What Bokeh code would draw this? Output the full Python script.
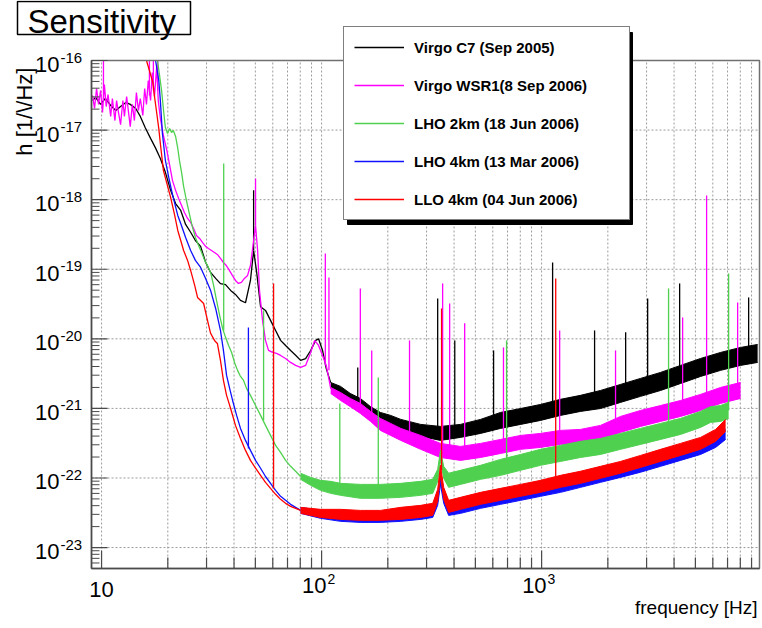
import numpy as np
from bokeh.plotting import figure
from bokeh.models import Label, Legend, LegendItem, BoxAnnotation, Range1d
from bokeh.embed import file_html
from bokeh.resources import INLINE

# ---------------- data ----------------
# Virgo C7 (Sep 2005) - black
c7_lf_freq = [9.1, 9.39, 9.9, 10.4, 11.0, 11.6, 12.2, 12.9, 13.5, 14.3, 15.0, 15.8, 16.7, 17.6, 18.5, 19.5,
              20.6, 21.7, 22.9, 24.1, 25.4, 26.7, 28.2, 29.7, 31.3, 33.0, 34.7, 36.6, 38.6, 40.6, 42.8, 45.1,
              47.5, 49.1, 50.7, 52.8, 55.6, 58.6, 61.8, 65.1, 68.6, 72.3, 76.2, 80.3, 84.6, 89.2, 94.0, 96.9,
              101, 105, 110]
c7_lf_h = [2.66e-17, 2.95e-17, 2.34e-17, 2.85e-17, 2.26e-17, 1.91e-17, 2.18e-17, 2.50e-17, 2.34e-17, 2.04e-17,
           1.57e-17, 1.08e-17, 7.6e-18, 5.5e-18, 3.9e-18, 2.47e-18, 1.36e-18, 8.8e-19, 7.0e-19, 4.4e-19, 3.4e-19,
           2.59e-19, 2.13e-19, 1.26e-19, 9.0e-20, 7.4e-20, 6.2e-20, 6.0e-20, 4.96e-20, 4.35e-20, 3.56e-20, 3.3e-20,
           6.9e-20, 1.86e-19, 9.0e-20, 2.9e-20, 2.56e-20, 1.84e-20, 1.32e-20, 9.5e-21, 8.0e-21, 6.8e-21, 5.8e-21,
           4.9e-21, 5.2e-21, 6.8e-21, 9.5e-21, 1.0e-20, 6.8e-21, 3.75e-21, 2.35e-21]
c7_band_freq = [110, 122, 135, 150, 167, 185, 206, 229, 282, 347, 428, 528, 651, 803, 989, 1219, 1503, 1853,
                2285, 2818, 3474, 4283, 5280, 6509, 8024, 9590]
c7_band_hi = [2.36e-21, 2.07e-21, 1.64e-21, 1.39e-21, 1.06e-21, 8.75e-22, 7.93e-22, 6.95e-22, 5.89e-22, 5.51e-22,
              5.89e-22, 6.95e-22, 8.75e-22, 9.96e-22, 1.14e-21, 1.35e-21, 1.54e-21, 1.81e-21, 2.21e-21, 2.70e-21,
              3.29e-21, 4.15e-21, 5.22e-21, 6.37e-21, 7.52e-21, 8.30e-21]
c7_band_lo = [1.94e-21, 1.59e-21, 1.26e-21, 9.96e-22, 7.67e-22, 6.29e-22, 5.33e-22, 4.67e-22, 3.96e-22, 3.47e-22,
              3.83e-22, 4.37e-22, 5.16e-22, 5.89e-22, 6.72e-22, 7.93e-22, 9.05e-22, 9.96e-22, 1.22e-21, 1.49e-21,
              1.81e-21, 2.28e-21, 2.88e-21, 3.52e-21, 4.15e-21, 4.58e-21]
c7_spike_freq = [49.1, 146, 337, 403, 605, 1122, 1741, 2410, 3034, 4240, 8730]
c7_spike_base = [1.86e-19, 1.30e-21, 4.37e-22, 4.52e-22, 6.29e-22, 9.35e-22, 1.30e-21, 1.69e-21, 2.14e-21,
                 3.08e-21, 5.96e-21]
c7_spike_peak = [1.36e-18, 3.88e-21, 3.80e-20, 9.48e-21, 6.81e-21, 1.25e-19, 1.32e-20, 1.24e-20, 3.80e-20,
                 6.25e-20, 3.93e-20]

# Virgo WSR1 (8 Sep 2006) - magenta
wsr1_lf_freq = [9.10, 9.29, 9.49, 9.69, 9.90, 10.1, 10.3, 10.5, 10.7, 11.0, 11.2, 11.5, 11.7, 11.9, 12.2, 12.5,
                12.7, 13.0, 13.3, 13.5, 13.8, 14.1, 14.4, 14.7, 15.0, 15.4, 15.7, 16.0, 16.3, 16.7, 17.0, 17.4,
                17.8, 18.1, 18.5, 19.1, 19.8, 20.4, 21.0, 21.7, 22.4, 23.1, 23.8, 24.6, 25.4, 26.2, 27.0, 27.9,
                28.8, 29.7, 30.6, 31.6, 32.6, 33.6, 34.7, 35.8, 36.9, 38.1, 39.3, 40.6, 41.9, 43.2, 44.6, 46.1,
                47.5, 49.1, 50.1, 51.2, 52.2, 53.9, 55.6, 57.4, 59.9, 62.4, 65.1, 68.6, 72.3, 76.2, 80.3, 84.6,
                89.2, 93.0, 96.9, 101, 105, 110]
wsr1_lf_h = [3.14e-17, 2.05e-17, 3.96e-17, 2.34e-17, 3.71e-17, 1.79e-17, 4.52e-17, 2.18e-17, 3.25e-17, 1.57e-17,
             2.84e-17, 1.37e-17, 2.66e-17, 1.91e-17, 1.20e-17, 2.66e-17, 1.57e-17, 3.04e-17, 1.67e-17, 1.12e-17,
             2.34e-17, 1.37e-17, 3.47e-17, 1.91e-17, 2.84e-17, 1.62e-17, 3.96e-17, 2.34e-17, 5.16e-17, 2.66e-17,
             6.72e-17, 3.04e-17, 8.20e-17, 2.66e-17, 1.47e-17, 8.36e-18, 5.09e-18, 3.10e-18, 1.89e-18, 1.36e-18,
             1.04e-18, 8.26e-19, 6.55e-19, 5.37e-19, 4.71e-19, 3.86e-19, 3.06e-19, 2.77e-19, 2.42e-19, 2.13e-19,
             1.99e-19, 1.86e-19, 1.74e-19, 1.63e-19, 1.43e-19, 1.25e-19, 1.13e-19, 9.61e-20, 8.15e-20, 6.90e-20,
             6.25e-20, 6.46e-20, 7.38e-20, 8.15e-20, 1.13e-19, 2.59e-19, 4.26e-19, 1.86e-19, 4.96e-20, 1.84e-20,
             9.48e-21, 6.81e-21, 6.37e-21, 6.17e-21, 5.77e-21, 5.22e-21, 4.58e-21, 4.15e-21, 3.88e-21, 4.15e-21,
             6.37e-21, 9.48e-21, 8.04e-21, 5.77e-21, 4.15e-21, 1.94e-21]
wsr1_band_freq = [110, 122, 135, 150, 167, 185, 206, 229, 282, 347, 428, 528, 651, 803, 989, 1219, 1503, 1853,
                  2285, 2818, 3474, 4283, 5280, 6509, 8024]
wsr1_band_hi = [2.00e-21, 1.69e-21, 1.39e-21, 1.18e-21, 9.05e-22, 7.18e-22, 6.08e-22, 5.16e-22, 4.09e-22,
                3.14e-22, 2.84e-22, 3.14e-22, 3.58e-22, 4.09e-22, 4.37e-22, 4.83e-22, 4.99e-22, 5.70e-22,
                7.67e-22, 9.35e-22, 1.10e-21, 1.30e-21, 1.59e-21, 2.00e-21, 2.36e-21]
wsr1_band_lo = [1.64e-21, 1.30e-21, 1.06e-21, 8.47e-22, 6.50e-22, 4.83e-22, 4.09e-22, 3.47e-22, 2.58e-22,
                1.97e-22, 1.79e-22, 1.97e-22, 2.25e-22, 2.58e-22, 2.75e-22, 3.04e-22, 3.14e-22, 3.58e-22,
                4.52e-22, 5.51e-22, 6.50e-22, 7.67e-22, 9.35e-22, 1.18e-21, 1.39e-21]
wsr1_spike_freq = [10.2, 16.5, 17.2, 18.0, 50.1, 104, 108, 150, 169, 251, 355, 382, 447, 671, 1208, 2168, 4375,
                   5623, 7780]
wsr1_spike_base = [2.66e-17, 3.14e-17, 3.71e-17, 3.71e-17, 4.26e-19, 4.15e-21, 3.52e-21, 9.96e-22, 7.67e-22,
                   3.96e-22, 2.49e-22, 2.33e-22, 2.25e-22, 2.84e-22, 3.70e-22, 5.16e-22, 9.96e-22, 1.30e-21,
                   1.81e-21]
wsr1_spike_peak = [1.0e-16, 1.0e-16, 1.0e-16, 1.0e-16, 2.02e-18, 1.68e-19, 7.63e-20, 5.30e-20, 6.81e-21,
                   9.48e-21, 6.25e-20, 3.22e-20, 1.67e-20, 7.52e-21, 1.32e-20, 6.81e-21, 2.03e-20, 1.15e-18,
                   3.33e-20]

# LHO 2km (18 Jun 2006) - green
lho2_lf_freq = [17.97, 18.35, 18.74, 19.13, 19.5, 19.95, 20.4, 20.8, 21.2, 21.7, 22.2, 22.6, 23.1, 23.6, 24.3,
                25.1, 25.9, 26.7, 27.6, 28.5, 29.4, 30.3, 31.3, 32.3, 33.3, 34.4, 35.5, 36.6, 37.8, 39.0, 40.2,
                41.5, 42.8, 44.2, 45.6, 47.5, 50.1, 52.8, 55.6, 58.6, 61.8, 65.1, 68.6, 72.3, 76.2, 80.3]
lho2_lf_h = [1.0e-16, 6.08e-17, 3.71e-17, 1.91e-17, 1.09e-17, 8.94e-18, 1.05e-17, 9.24e-18, 9.87e-18, 8.09e-18,
             5.44e-18, 3.66e-18, 2.46e-18, 1.55e-18, 9.75e-19, 6.13e-19, 3.99e-19, 2.86e-19, 2.20e-19, 1.74e-19,
             1.34e-19, 1.13e-19, 9.0e-20, 5.85e-20, 3.56e-20, 2.17e-20, 1.41e-20, 1.05e-20, 8.04e-21, 6.37e-21,
             4.58e-21, 3.52e-21, 2.88e-21, 2.52e-21, 1.94e-21, 1.54e-21, 1.10e-21, 7.93e-22, 5.70e-22, 4.09e-22,
             2.94e-22, 2.33e-22, 1.79e-22, 1.47e-22, 1.25e-22, 1.05e-22]
lho2_band_freq = [80.3, 89.2, 98.9, 110, 122, 150, 185, 229, 282, 320, 337, 347, 359, 378, 428, 528, 651, 803,
                  989, 1219, 1503, 1853, 2285, 2818, 3474, 4283, 5280, 5862, 6509, 7080]
lho2_band_hi = [1.17e-22, 1.02e-22, 9.24e-23, 8.94e-23, 8.37e-23, 8.09e-23, 8.09e-23, 8.37e-23, 8.94e-23,
                9.55e-23, 1.33e-22, 2.49e-22, 1.47e-22, 1.17e-22, 1.29e-22, 1.52e-22, 1.85e-22, 2.18e-22,
                2.58e-22, 2.94e-22, 3.36e-22, 3.70e-22, 4.37e-22, 5.16e-22, 6.08e-22, 7.18e-22, 9.05e-22,
                1.06e-21, 1.10e-21, 1.22e-21]
lho2_band_lo = [9.55e-23, 7.83e-23, 6.64e-23, 6.01e-23, 5.63e-23, 5.10e-23, 5.10e-23, 5.27e-23, 5.63e-23,
                6.01e-23, 8.94e-23, 1.79e-22, 9.87e-23, 7.33e-23, 8.09e-23, 9.55e-23, 1.09e-22, 1.29e-22,
                1.52e-22, 1.73e-22, 1.97e-22, 2.18e-22, 2.58e-22, 3.04e-22, 3.58e-22, 4.23e-22, 5.33e-22,
                6.29e-22, 6.50e-22, 7.18e-22]
lho2_spike_freq = [35.9, 54.5, 121, 181, 693, 3776, 7080]
lho2_spike_base = [1.32e-20, 6.72e-22, 7.09e-23, 6.42e-23, 1.42e-22, 4.83e-22, 9.35e-22]
lho2_spike_peak = [3.31e-18, 2.56e-20, 1.18e-21, 2.79e-21, 9.48e-21, 5.30e-20, 8.70e-20]

# LHO 4km (13 Mar 2006) - blue
lho4_lf_freq = [17.6, 18.2, 18.5, 18.9, 19.5, 20.2, 20.8, 21.5, 22.2, 22.9, 24.1, 25.4, 26.7, 28.2, 29.7, 31.3,
                33.0, 34.7, 35.8, 37.0, 38.2, 39.4, 41.1, 42.8, 45.1, 47.5, 50.1, 52.8, 55.6, 58.6, 61.8, 65.1,
                68.6, 72.3, 76.2, 80.3]
lho4_lf_h = [1.0e-16, 5.16e-17, 2.66e-17, 8.94e-18, 3.66e-18, 2.09e-18, 1.36e-18, 8.83e-19, 5.93e-19, 4.55e-19,
             2.86e-19, 1.86e-19, 1.34e-19, 1.06e-19, 7.38e-20, 4.96e-20, 2.73e-20, 1.32e-20, 6.81e-21, 2.98e-21,
             1.94e-21, 1.30e-21, 7.93e-22, 5.16e-22, 3.47e-22, 2.49e-22, 1.79e-22, 1.38e-22, 1.05e-22, 8.37e-23,
             6.64e-23, 5.45e-23, 4.77e-23, 4.18e-23, 3.78e-23, 3.42e-23]
lho4_band_freq = [80.3, 98.9, 122, 150, 185, 229, 282, 320, 337, 347, 359, 378, 428, 528, 651, 803, 989, 1219,
                  1503, 1853, 2285, 2818, 3474, 4283, 5280, 6180, 6860]
lho4_band_hi = [3.78e-23, 3.42e-23, 3.31e-23, 3.20e-23, 3.20e-23, 3.31e-23, 3.54e-23, 3.78e-23, 5.63e-23,
                1.05e-22, 6.01e-23, 4.04e-23, 4.32e-23, 5.10e-23, 5.82e-23, 6.64e-23, 7.57e-23, 8.65e-23,
                1.02e-22, 1.21e-22, 1.42e-22, 1.68e-22, 2.04e-22, 2.49e-22, 3.04e-22, 3.83e-22, 4.99e-22]
lho4_band_lo = [3.10e-23, 2.63e-23, 2.38e-23, 2.30e-23, 2.30e-23, 2.38e-23, 2.54e-23, 2.71e-23, 4.04e-23,
                8.09e-23, 4.32e-23, 2.90e-23, 3.10e-23, 3.66e-23, 4.18e-23, 4.77e-23, 5.45e-23, 6.21e-23,
                7.33e-23, 8.65e-23, 1.02e-22, 1.21e-22, 1.47e-22, 1.79e-22, 2.18e-22, 2.75e-22, 3.58e-22]
lho4_spike_freq = [46.5]
lho4_spike_base = [2.66e-22]
lho4_spike_peak = [1.46e-20]

# LLO 4km (04 Jun 2006) - red
llo4_lf_freq = [16.0, 16.5, 17.1, 17.4, 17.8, 18.2, 18.5, 19.1, 19.8, 20.6, 21.5, 22.2, 22.9, 23.6, 24.6, 25.4,
                26.5, 27.3, 28.2, 29.1, 30.3, 31.3, 32.6, 33.6, 34.7, 35.8, 37.0, 38.6, 40.6, 42.8, 45.1, 47.5,
                50.1, 52.8, 55.6, 58.6, 61.8, 65.1, 68.6, 72.3, 76.2, 80.3]
llo4_lf_h = [1.0e-16, 7.18e-17, 4.83e-17, 3.04e-17, 1.79e-17, 1.05e-17, 6.42e-18, 2.63e-18, 1.71e-18, 1.08e-18,
             5.93e-19, 3.61e-19, 2.59e-19, 1.86e-19, 1.34e-19, 9.61e-20, 5.85e-20, 3.93e-20, 3.56e-20, 3.22e-20,
             1.84e-20, 1.20e-20, 9.48e-21, 8.58e-21, 4.89e-21, 2.52e-21, 1.54e-21, 9.96e-22, 5.70e-22, 3.70e-22,
             2.49e-22, 1.79e-22, 1.38e-22, 1.09e-22, 8.65e-23, 7.09e-23, 5.82e-23, 4.93e-23, 4.32e-23, 3.91e-23,
             3.66e-23, 3.42e-23]
llo4_band_freq = [80.3, 98.9, 122, 150, 185, 229, 282, 320, 337, 347, 359, 378, 428, 528, 651, 803, 989, 1219,
                  1503, 1853, 2285, 2818, 3474, 4283, 5280, 6180, 6860]
llo4_band_hi = [3.78e-23, 3.54e-23, 3.54e-23, 3.42e-23, 3.42e-23, 3.78e-23, 4.04e-23, 4.32e-23, 6.86e-23,
                1.52e-22, 7.33e-23, 4.77e-23, 5.27e-23, 6.21e-23, 7.09e-23, 8.09e-23, 9.24e-23, 1.09e-22,
                1.25e-22, 1.47e-22, 1.73e-22, 2.11e-22, 2.58e-22, 3.14e-22, 3.83e-22, 4.99e-22, 6.95e-22]
llo4_band_lo = [3.10e-23, 2.71e-23, 2.54e-23, 2.46e-23, 2.46e-23, 2.54e-23, 2.71e-23, 2.90e-23, 4.61e-23,
                1.09e-22, 4.93e-23, 3.20e-23, 3.54e-23, 4.18e-23, 4.77e-23, 5.45e-23, 6.21e-23, 7.33e-23,
                8.37e-23, 9.87e-23, 1.17e-22, 1.42e-22, 1.73e-22, 2.11e-22, 2.58e-22, 3.36e-22, 4.67e-22]
llo4_spike_freq = [60.5, 351, 1159]
llo4_spike_base = [7.09e-23, 1.29e-22, 8.09e-23]
llo4_spike_peak = [6.25e-20, 2.73e-20, 7.38e-20]

legend_labels = ["Virgo C7 (Sep 2005)", "Virgo WSR1(8 Sep 2006)", "LHO 2km (18 Jun 2006)",
                 "LHO 4km (13 Mar 2006)", "LLO 4km (04 Jun 2006)"]
x_tick_values = [10, 100, 1000]
x_tick_exponents = ["", "2", "3"]
y_tick_exponents = [-23, -22, -21, -20, -19, -18, -17, -16]

# ---------------- layout (pixel geometry of the ROOT-like frame) ----------------
W, H = 762, 628
FL, FR, FT, FB = 91, 759, 60, 568          # inner plotting box inside the canvas
X_MIN, X_MAX = 9.0, 9780.0                 # axis range of the inner box
Y_MIN, Y_MAX = 5.0e-24, 1.0e-16
FONT = "Liberation Sans"
LX0, LX1 = np.log10(X_MIN), np.log10(X_MAX)
LY0, LY1 = np.log10(Y_MIN), np.log10(Y_MAX)


def data_x(px):
    return float(10 ** (LX0 + (px - FL) / (FR - FL) * (LX1 - LX0)))


def data_y(py):
    return float(10 ** (LY1 - (py - FT) / (FB - FT) * (LY1 - LY0)))


def pix_x(v):
    return float(FL + (np.log10(v) - LX0) / (LX1 - LX0) * (FR - FL))


def pix_y(v):
    return float(FT + (LY1 - np.log10(v)) / (LY1 - LY0) * (FB - FT))


# the Bokeh frame covers the whole canvas so that texts outside the inner box are not clipped
p = figure(width=W, height=H, x_axis_type="log", y_axis_type="log",
           x_range=Range1d(data_x(0), data_x(W)), y_range=Range1d(data_y(H), data_y(0)),
           x_axis_location=None, y_axis_location=None, title_location=None,
           output_backend="svg", toolbar_location=None,
           min_border_left=0, min_border_right=0, min_border_top=0, min_border_bottom=0)
p.background_fill_color = "white"
p.border_fill_color = "white"
p.outline_line_color = None
p.grid.visible = False

x_major = [10.0, 100.0, 1000.0]
x_minor = [m * 10.0 ** e for e in range(1, 4) for m in range(2, 10)]
y_major = [10.0 ** e for e in y_tick_exponents]
y_minor = [m * 10.0 ** e for e in range(-24, -16) for m in range(2, 10) if m * 10.0 ** e > Y_MIN]

GRID = "#9c9c9c"
x_grid = x_major + x_minor
p.segment(x0=x_grid, y0=[Y_MIN] * len(x_grid), x1=x_grid, y1=[Y_MAX] * len(x_grid),
          line_color=GRID, line_dash="2 2", line_width=1)
p.segment(x0=[X_MIN] * len(y_major), y0=y_major, x1=[X_MAX] * len(y_major), y1=y_major,
          line_color=GRID, line_dash="2 2", line_width=1)

series = [
    ("black", c7_lf_freq, c7_lf_h, c7_band_freq, c7_band_lo, c7_band_hi, c7_spike_freq, c7_spike_base, c7_spike_peak),
    ("#ff00ff", wsr1_lf_freq, wsr1_lf_h, wsr1_band_freq, wsr1_band_lo, wsr1_band_hi, wsr1_spike_freq, wsr1_spike_base, wsr1_spike_peak),
    ("#4fd14f", lho2_lf_freq, lho2_lf_h, lho2_band_freq, lho2_band_lo, lho2_band_hi, lho2_spike_freq, lho2_spike_base, lho2_spike_peak),
    ("#1010ff", lho4_lf_freq, lho4_lf_h, lho4_band_freq, lho4_band_lo, lho4_band_hi, lho4_spike_freq, lho4_spike_base, lho4_spike_peak),
    ("#ff0000", llo4_lf_freq, llo4_lf_h, llo4_band_freq, llo4_band_lo, llo4_band_hi, llo4_spike_freq, llo4_spike_base, llo4_spike_peak),
]

line_renderers = []
for color, lf_f, lf_h, bf, blo, bhi, sf, sb, sp in series:
    p.varea(x=bf, y1=blo, y2=bhi, fill_color=color, fill_alpha=1.0)
    p.line(bf, blo, line_color=color, line_width=1)
    p.line(bf, bhi, line_color=color, line_width=1)
    r = p.line(lf_f, lf_h, line_color=color, line_width=1.3)
    p.segment(x0=sf, y0=sb, x1=sf, y1=sp, line_color=color, line_width=1.3)
    line_renderers.append(r)

# frame and ticks (ticks point inwards, as in ROOT)
AX = "#4a4a4a"
p.quad(left=[X_MIN], right=[X_MAX], bottom=[Y_MIN], top=[Y_MAX], fill_color=None,
       line_color="#707070", line_width=1.5)
p.segment(x0=x_major, y0=[Y_MIN] * 3, x1=x_major, y1=[data_y(FB - 18)] * 3, line_color=AX, line_width=1.2)
p.segment(x0=x_minor, y0=[Y_MIN] * len(x_minor), x1=x_minor, y1=[data_y(FB - 11)] * len(x_minor),
          line_color=AX, line_width=1.2)
p.segment(x0=[X_MIN] * len(y_major), y0=y_major, x1=[data_x(FL + 16)] * len(y_major), y1=y_major,
          line_color=AX, line_width=1.2)
p.segment(x0=[X_MIN] * len(y_minor), y0=y_minor, x1=[data_x(FL + 8)] * len(y_minor), y1=y_minor,
          line_color=AX, line_width=1.0)
p.segment(x0=[X_MIN, X_MIN], y0=[Y_MIN, Y_MIN], x1=[X_MIN, X_MAX], y1=[Y_MAX, Y_MIN], line_color=AX, line_width=1.5)

# title box (drawn as a glyph so its border is crisp)
p.quad(left=[data_x(17)], right=[data_x(190)], top=[data_y(1)], bottom=[data_y(34)],
       fill_color="white", line_color="black", line_width=1.5)

# ---------------- tick labels ----------------
for v, ex in zip(x_tick_values, x_tick_exponents):
    if ex == "":
        p.add_layout(Label(x=v, y=data_y(589), text="10", text_align="center", text_baseline="middle",
                           text_font=FONT, text_font_size="22px", text_color="black"))
    else:
        px = pix_x(v)
        p.add_layout(Label(x=data_x(px + 5), y=data_y(585), text="10", text_align="right",
                           text_baseline="middle", text_font=FONT, text_font_size="22px", text_color="black"))
        p.add_layout(Label(x=data_x(px + 6), y=data_y(578), text=ex, text_align="left",
                           text_baseline="middle", text_font=FONT, text_font_size="14px", text_color="black"))

for e in y_tick_exponents:
    py = pix_y(10.0 ** e)
    p.add_layout(Label(x=data_x(59), y=data_y(py + 4), text="10", text_align="right", text_baseline="middle",
                       text_font=FONT, text_font_size="22px", text_color="black"))
    p.add_layout(Label(x=data_x(60), y=data_y(py - 3), text=str(e), text_align="left",
                       text_baseline="middle", text_font=FONT, text_font_size="15px", text_color="black"))

# ---------------- axis titles ----------------
p.add_layout(Label(x=data_x(757), y=data_y(607), text="frequency [Hz]", text_align="right",
                   text_baseline="middle", text_font=FONT, text_font_size="19px", text_color="black"))
p.add_layout(Label(x=data_x(24), y=data_y(61), text="h  [1/\\/Hz]", angle=float(np.pi / 2), text_align="right",
                   text_baseline="middle", text_font=FONT, text_font_size="22px", text_color="black"))

# ---------------- title text ----------------
p.add_layout(Label(x=data_x(27), y=data_y(21), text="Sensitivity", text_align="left", text_baseline="middle",
                   text_font=FONT, text_font_size="33px", text_color="black"))

# ---------------- legend ----------------
LEG_L, LEG_R, LEG_T, LEG_B = 343, 628, 28, 220
p.add_layout(BoxAnnotation(left=data_x(LEG_L + 4), right=data_x(LEG_R + 4), top=data_y(LEG_T + 4),
                           bottom=data_y(LEG_B + 4), fill_color="black", fill_alpha=1.0, line_color="black",
                           line_alpha=1.0))
legend = Legend(items=[LegendItem(label=l, renderers=[r]) for l, r in zip(legend_labels, line_renderers)],
                location=(LEG_L, H - LEG_B))
legend.border_line_color = "black"
legend.border_line_width = 1
legend.background_fill_color = "white"
legend.background_fill_alpha = 1.0
legend.padding = 10
legend.spacing = 18
legend.margin = 0
legend.label_height = 20
legend.glyph_height = 20
legend.glyph_width = 50
legend.label_standoff = 10
legend.label_width = LEG_R - 10 - (LEG_L + 10 + 50 + 10)
legend.label_text_font = FONT
legend.label_text_font_style = "bold"
legend.label_text_font_size = "15px"
legend.label_text_color = "black"
p.add_layout(legend)

open("out.html", "w").write(file_html(p, INLINE))
